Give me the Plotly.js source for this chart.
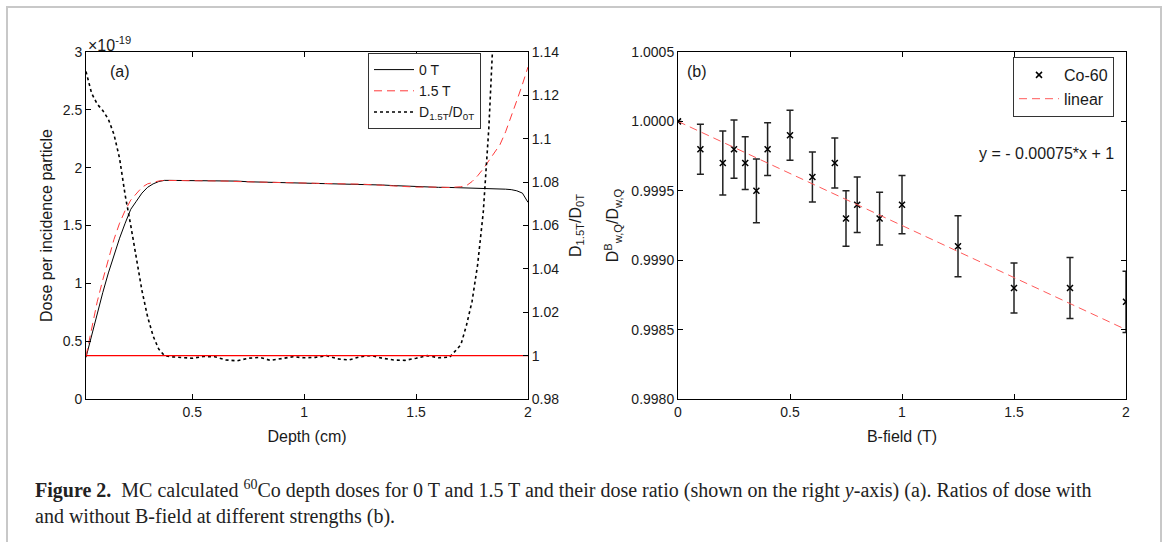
<!DOCTYPE html>
<html>
<head>
<meta charset="utf-8">
<script src="https://cdn.plot.ly/plotly-3.0.1.min.js"></script>
<style>html,body{margin:0;padding:0;background:#fff;}#chart{width:1168px;height:542px;}</style>
</head>
<body>
<div id="chart"></div>
<script>
// ---- Panel (a): depth dose data (dose in units of 1e-19) ----
const depth = [0.025,0.05,0.075,0.1,0.125,0.15,0.175,0.2,0.225,0.25,0.275,0.3,0.325,0.35,0.375,0.4,0.45,0.5,0.55,0.6,0.65,0.7,0.75,0.8,0.85,0.9,0.95,1.0,1.05,1.1,1.15,1.2,1.25,1.3,1.35,1.4,1.45,1.5,1.55,1.6,1.65,1.7,1.725,1.75,1.775,1.8,1.825,1.85,1.875,1.9,1.925,1.95,1.975,2.0];
const dose0T = [0.36,0.55,0.74,0.92,1.09,1.25,1.39,1.52,1.64,1.71,1.78,1.83,1.86,1.88,1.89,1.89,1.89,1.89,1.89,1.89,1.888,1.884,1.878,1.876,1.875,1.872,1.869,1.867,1.865,1.863,1.862,1.86,1.858,1.855,1.85,1.845,1.84,1.835,1.833,1.83,1.829,1.827,1.826,1.825,1.823,1.822,1.82,1.818,1.816,1.814,1.81,1.80,1.78,1.70];
const dose15T = [0.37,0.62,0.84,1.03,1.21,1.38,1.52,1.63,1.72,1.78,1.83,1.86,1.875,1.885,1.89,1.89,1.888,1.889,1.89,1.888,1.884,1.88,1.877,1.876,1.871,1.872,1.868,1.866,1.865,1.863,1.858,1.859,1.858,1.855,1.848,1.842,1.836,1.832,1.833,1.828,1.829,1.835,1.845,1.88,1.93,1.99,2.06,2.12,2.2,2.31,2.44,2.58,2.72,2.87];
const ratio = [1.131,1.121,1.116,1.113,1.109,1.102,1.091,1.074,1.06,1.045,1.03,1.018,1.009,1.003,1.0,0.9995,0.999,0.9988,0.9996,0.9995,0.998,0.9976,0.9988,0.9992,0.9978,0.9985,0.9995,0.999,0.9992,1.0,0.9985,0.998,0.9995,1.0,0.9988,0.998,0.9978,0.9988,1.0,0.999,0.9993,1.005,1.014,1.025,1.042,1.066,1.105,1.16,1.22,1.28,1.35,1.43,1.52,1.65];
const refX = [0.025, 2];
const refY = [1, 1];

// ---- Panel (b): dose ratio vs B-field ----
const bField = [0,0.1,0.2,0.25,0.3,0.35,0.4,0.5,0.6,0.7,0.75,0.8,0.9,1.0,1.25,1.5,1.75,2.0];
const bRatio = [1.0000,0.9998,0.9997,0.9998,0.9997,0.9995,0.9998,0.9999,0.9996,0.9997,0.9993,0.9994,0.9993,0.9994,0.9991,0.9988,0.9988,0.9987];
const bErr = [0,0.00018,0.00023,0.00021,0.00019,0.00023,0.00019,0.00018,0.00018,0.00018,0.0002,0.0002,0.00019,0.00021,0.00022,0.00018,0.00022,0.00022];
const fitSlope = -0.00075, fitIntercept = 1;
const fitX = [0, 2];
const fitY = fitX.map(v => fitSlope * v + fitIntercept);

const W = 1168, H = 542;
const px = v => v / W, py = v => 1 - v / H;
const FONT = 'Liberation Sans, Arial, sans-serif';
const TXT = '#1a1a1a';
const TF = {family: FONT, size: 16, color: TXT};

const traces = [
  {x: depth, y: dose0T, xaxis: 'x', yaxis: 'y', type: 'scatter', mode: 'lines', name: '0 T',
   line: {color: '#000', width: 1}, legend: 'legend'},
  {x: depth, y: dose15T, xaxis: 'x', yaxis: 'y', type: 'scatter', mode: 'lines', name: '1.5 T',
   line: {color: '#ff3a3a', width: 1, dash: '8px,5px'}, legend: 'legend'},
  {x: depth, y: ratio, xaxis: 'x', yaxis: 'y2', type: 'scatter', mode: 'lines', name: 'D<sub>1.5T</sub>/D<sub>0T</sub>',
   line: {color: '#000', width: 1.6, dash: 'dot'}, legend: 'legend'},
  {x: refX, y: refY, xaxis: 'x', yaxis: 'y2', type: 'scatter', mode: 'lines', showlegend: false,
   line: {color: '#ff0000', width: 1.3}},
  {x: bField, y: bRatio, xaxis: 'x3', yaxis: 'y3', type: 'scatter', mode: 'markers', name: 'Co-60',
   marker: {symbol: 'x-thin-open', size: 6, color: '#000', line: {width: 1.5, color: '#000'}},
   error_y: {type: 'data', array: bErr, visible: true, color: '#222', thickness: 1.5, width: 3.5},
   legend: 'legend2'},
  {x: fitX, y: fitY, xaxis: 'x3', yaxis: 'y3', type: 'scatter', mode: 'lines', name: 'linear',
   line: {color: '#ff5a5a', width: 1, dash: '8px,5px'}, legend: 'legend2'}
];

const axBase = {showgrid: false, zeroline: false, showline: true, linecolor: '#000', linewidth: 1,
  ticks: 'inside', ticklen: 5, tickcolor: '#000', tickfont: {family: FONT, size: 14, color: TXT}};

const layout = {
  width: W, height: H,
  margin: {l: 0, r: 0, t: 0, b: 0},
  paper_bgcolor: '#fff', plot_bgcolor: '#fff',
  font: {family: FONT, size: 14, color: TXT},
  xaxis: Object.assign({}, axBase, {domain: [px(86), px(528)], anchor: 'y', range: [0.025, 2],
    tickvals: [0.5, 1, 1.5, 2], mirror: 'ticks',
    title: {text: 'Depth (cm)', font: TF, standoff: 12}}),
  yaxis: Object.assign({}, axBase, {domain: [py(399), py(52)], anchor: 'x', range: [0, 3], dtick: 0.5,
    title: {text: 'Dose per incidence particle', font: TF, standoff: 6}}),
  yaxis2: Object.assign({}, axBase, {overlaying: 'y', side: 'right', anchor: 'x', range: [0.98, 1.14], dtick: 0.02,
    title: {text: 'D<sub>1.5T</sub>/D<sub>0T</sub>', font: TF, standoff: 11}}),
  xaxis3: Object.assign({}, axBase, {domain: [px(678), px(1126)], anchor: 'y3', range: [0, 2], dtick: 0.5, mirror: 'ticks',
    title: {text: 'B-field (T)', font: TF, standoff: 12}}),
  yaxis3: Object.assign({}, axBase, {domain: [py(399), py(52)], anchor: 'x3', range: [0.998, 1.0005], dtick: 0.0005,
    tickformat: '.4f', mirror: 'ticks',
    title: {text: 'D<sup>B</sup><sub>w,Q</sub>/D<sub>w,Q</sub>', font: TF, standoff: 8}}),
  legend: {x: px(368), y: py(91), xanchor: 'left', yanchor: 'middle', bgcolor: '#fff', bordercolor: '#333', borderwidth: 1,
    font: {family: FONT, size: 14, color: TXT}, tracegroupgap: 0, itemwidth: 40},
  legend2: {x: px(1013), y: py(87), xanchor: 'left', yanchor: 'middle', bgcolor: '#fff', bordercolor: '#333', borderwidth: 1,
    font: TF, tracegroupgap: 0, itemwidth: 40},
  shapes: [
    {type: 'rect', xref: 'paper', yref: 'paper', x0: px(7), x1: px(1161), y0: -0.1, y1: py(7),
     line: {color: '#c8c8c8', width: 2}, fillcolor: 'rgba(0,0,0,0)', layer: 'below'}
  ],
  annotations: [
    {xref: 'paper', yref: 'paper', x: px(86), y: py(44), xanchor: 'left', yanchor: 'middle', showarrow: false,
     text: '×10<sup>-19</sup>', font: TF},
    {xref: 'paper', yref: 'paper', x: px(108), y: py(72), xanchor: 'left', yanchor: 'middle', showarrow: false,
     text: '(a)', font: TF},
    {xref: 'paper', yref: 'paper', x: px(685), y: py(71), xanchor: 'left', yanchor: 'middle', showarrow: false,
     text: '(b)', font: TF},
    {xref: 'paper', yref: 'paper', x: px(1116), y: py(153), xanchor: 'right', yanchor: 'middle', showarrow: false,
     text: 'y = - 0.00075*x + 1', font: TF},
    {xref: 'paper', yref: 'paper', x: px(33), y: py(502), xanchor: 'left', yanchor: 'middle', showarrow: false, align: 'left',
     text: '<b>Figure 2.</b>&nbsp;&nbsp;MC calculated <sup>60</sup>Co depth doses for 0 T and 1.5 T and their dose ratio (shown on the right <i>y</i>-axis) (a). Ratios of dose with<br>and without B-field at different strengths (b).',
     font: {family: 'Liberation Serif, serif', size: 20, color: '#222'}}
  ]
};

Plotly.newPlot('chart', traces, layout, {displayModeBar: false, staticPlot: true});
</script>
</body>
</html>
